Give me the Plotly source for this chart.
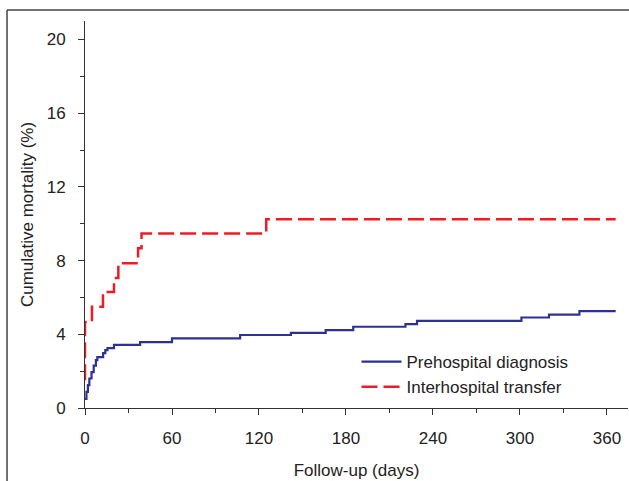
import plotly.graph_objects as go

# Prehospital diagnosis (blue, solid) - step curve
pre_days = [0, 1, 2, 3, 4.5, 6, 7.5, 8.5, 12.5, 14, 15.5, 20, 38, 60, 107, 142, 166, 185, 221, 229, 301, 320, 341, 366]
pre_mort = [0.5, 0.87, 1.24, 1.6, 1.95, 2.3, 2.6, 2.76, 2.98, 3.14, 3.25, 3.42, 3.58, 3.78, 3.96, 4.08, 4.23, 4.41, 4.55, 4.73, 4.91, 5.07, 5.26, 5.26]

# Interhospital transfer (red, dashed) - step curve
inter_days = [0, 0, 4.8, 12.4, 20, 23, 36.6, 39, 125, 366]
inter_mort = [1.5, 4.66, 5.5, 6.3, 7.05, 7.86, 8.67, 9.47, 10.24, 10.24]

x_ticks = [0, 60, 120, 180, 240, 300, 360]
y_ticks = [0, 4, 8, 12, 16, 20]

FONT = "Liberation Sans, Arial, sans-serif"
TXT = "#222222"
AX = "#333333"

fig = go.Figure()
fig.add_trace(go.Scatter(
    x=pre_days, y=pre_mort, mode="lines", name="Prehospital diagnosis",
    line=dict(color="#2e3192", width=2.2, shape="hv"),
))
fig.add_trace(go.Scatter(
    x=inter_days, y=inter_mort, mode="lines", name="Interhospital transfer",
    line=dict(color="#ed1c24", width=2.5, shape="hv", dash="16px,6px"),
))

fig.update_layout(
    width=629, height=481,
    margin=dict(l=85, r=1, t=21, b=73),
    paper_bgcolor="white", plot_bgcolor="white",
    font=dict(family=FONT, size=17, color=TXT),
    showlegend=True,
    legend=dict(
        x=0.5, y=0.165, xanchor="left", yanchor="top",
        bgcolor="rgba(0,0,0,0)", font=dict(size=17, color=TXT),
        itemwidth=40, tracegroupgap=0,
    ),
    xaxis=dict(
        range=[0, 374.5], tickvals=x_ticks, ticktext=[str(v) for v in x_ticks],
        showgrid=False, zeroline=False, showline=True, linecolor=AX, linewidth=1,
        ticks="outside", ticklen=6, tickcolor=AX, tickwidth=1,
        minor=dict(tickvals=[30, 90, 150, 210, 270, 330], ticks="outside", ticklen=4, tickcolor=AX, tickwidth=1),
        ticklabelstandoff=9,
        title=dict(text="Follow-up (days)", standoff=16, font=dict(size=17, color=TXT)),
        fixedrange=True,
    ),
    yaxis=dict(
        range=[0, 21], tickvals=y_ticks, ticktext=[str(v) for v in y_ticks],
        showgrid=False, zeroline=False, showline=True, linecolor=AX, linewidth=1,
        ticks="outside", ticklen=6, tickcolor=AX, tickwidth=1,
        minor=dict(tickvals=[2, 6, 10, 14, 18], ticks="outside", ticklen=4, tickcolor=AX, tickwidth=1),
        ticklabelstandoff=9,
        title=dict(text="Cumulative mortality (%)", standoff=8, font=dict(size=17, color=TXT)),
        fixedrange=True,
    ),
    shapes=[
        dict(type="line", xref="paper", yref="paper", x0=-0.1436, x1=1.05, y0=1.0284, y1=1.0284,
             line=dict(color="#444444", width=1.5)),
        dict(type="line", xref="paper", yref="paper", x0=-0.1436, x1=-0.1436, y0=-0.25, y1=1.0284,
             line=dict(color="#444444", width=1.5)),
    ],
)

fig.write_html(
    "out.html",
    config={"displayModeBar": False},
    post_script="document.body.style.margin='0';document.body.style.overflow='hidden';",
)
